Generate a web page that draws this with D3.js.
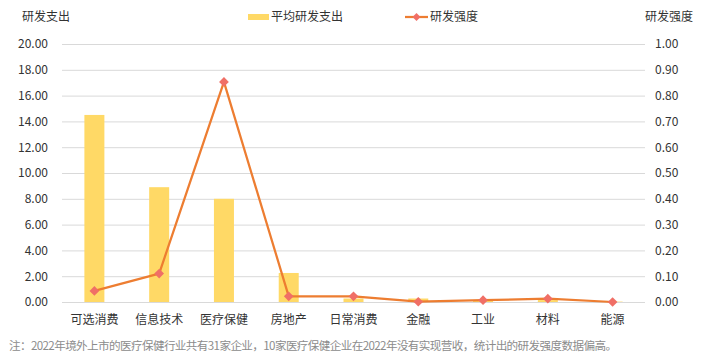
<!DOCTYPE html>
<html>
<head>
<meta charset="utf-8">
<script src="https://cdn.jsdelivr.net/npm/d3@7"></script>
<style>
  body { margin: 0; background: #fff; }
  text { font-family: "Noto Sans CJK SC", "Microsoft YaHei", sans-serif; }
</style>
</head>
<body>
<script>
// Data
const categories = ["可选消费", "信息技术", "医疗保健", "房地产", "日常消费", "金融", "工业", "材料", "能源"];
const avgSpend = [14.5, 8.9, 8.0, 2.25, 0.27, 0.27, 0.1, 0.15, 0.03];
const intensity = [0.043, 0.11, 0.853, 0.022, 0.022, 0.001, 0.007, 0.013, 0.0];
const leftTicks = [0, 2, 4, 6, 8, 10, 12, 14, 16, 18, 20];
const rightTicks = [0, 0.1, 0.2, 0.3, 0.4, 0.5, 0.6, 0.7, 0.8, 0.9, 1.0];
const note = "注：2022年境外上市的医疗保健行业共有31家企业，10家医疗保健企业在2022年没有实现营收，统计出的研发强度数据偏高。";

const width = 701, height = 359;
const margin = { left: 62, right: 56, top: 44, bottom: 57 };

const svg = d3.select("body").append("svg")
    .attr("width", width)
    .attr("height", height);

const x = d3.scaleBand()
    .domain(categories)
    .range([margin.left, width - margin.right])
    .paddingInner(0)
    .paddingOuter(0);

const yL = d3.scaleLinear().domain([0, 20]).range([height - margin.bottom, margin.top]);
const yR = d3.scaleLinear().domain([0, 1]).range([height - margin.bottom, margin.top]);

// gridlines
svg.append("g")
    .selectAll("line")
    .data(leftTicks)
    .join("line")
    .attr("x1", margin.left)
    .attr("x2", width - margin.right)
    .attr("y1", d => yL(d) + 0.5)
    .attr("y2", d => yL(d) + 0.5)
    .attr("stroke", "#d9d9d9")
    .attr("stroke-width", 1);

// left axis
const leftAxis = svg.append("g")
    .attr("transform", `translate(${margin.left},0)`)
    .call(d3.axisLeft(yL).tickValues(leftTicks).tickFormat(d3.format(".2f")).tickSize(0).tickPadding(14));
leftAxis.select(".domain").remove();
leftAxis.selectAll("text").attr("font-size", 12).attr("fill", "#333")
    .style("font-family", "'Noto Sans CJK SC', sans-serif");

// right axis
const rightAxis = svg.append("g")
    .attr("transform", `translate(${width - margin.right},0)`)
    .call(d3.axisRight(yR).tickValues(rightTicks).tickFormat(d3.format(".2f")).tickSize(0).tickPadding(10));
rightAxis.select(".domain").remove();
rightAxis.selectAll("text").attr("font-size", 12).attr("fill", "#333")
    .style("font-family", "'Noto Sans CJK SC', sans-serif");

// x axis labels
const bottomAxis = svg.append("g")
    .attr("transform", `translate(0,${height - margin.bottom})`)
    .call(d3.axisBottom(x).tickSize(0).tickPadding(13));
bottomAxis.select(".domain").remove();
bottomAxis.selectAll("text").attr("font-size", 12).attr("fill", "#333")
    .style("font-family", "'Noto Sans CJK SC', sans-serif");

// bars
const barW = 20;
svg.append("g")
    .selectAll("rect")
    .data(avgSpend)
    .join("rect")
    .attr("x", (d, i) => x(categories[i]) + x.bandwidth() / 2 - barW / 2)
    .attr("y", d => yL(d))
    .attr("width", barW)
    .attr("height", d => yL(0) - yL(d))
    .attr("fill", "#FFD966");

// line
const line = d3.line()
    .x((d, i) => x(categories[i]) + x.bandwidth() / 2)
    .y(d => yR(d));
svg.append("path")
    .datum(intensity)
    .attr("d", line)
    .attr("fill", "none")
    .attr("stroke", "#ED7D31")
    .attr("stroke-width", 2.25)
    .attr("stroke-linejoin", "round");

const diamond = d3.symbol().type(d3.symbolDiamond2).size(60);
svg.append("g")
    .selectAll("path")
    .data(intensity)
    .join("path")
    .attr("d", diamond)
    .attr("transform", (d, i) => `translate(${x(categories[i]) + x.bandwidth() / 2},${yR(d)})`)
    .attr("fill", "#F06F66");

// axis titles
svg.append("text")
    .attr("x", 22).attr("y", 21)
    .attr("font-size", 12).attr("fill", "#333")
    .text("研发支出");
svg.append("text")
    .attr("x", 693).attr("y", 21)
    .attr("text-anchor", "end")
    .attr("font-size", 12).attr("fill", "#333")
    .text("研发强度");

// legend
const legend = svg.append("g");
legend.append("rect")
    .attr("x", 248).attr("y", 14).attr("width", 21).attr("height", 6)
    .attr("fill", "#FFD966");
legend.append("text")
    .attr("x", 271).attr("y", 21)
    .attr("font-size", 12).attr("fill", "#333")
    .text("平均研发支出");
legend.append("line")
    .attr("x1", 405).attr("x2", 428).attr("y1", 17).attr("y2", 17)
    .attr("stroke", "#ED7D31").attr("stroke-width", 2.25);
legend.append("path")
    .attr("d", d3.symbol().type(d3.symbolDiamond2).size(40))
    .attr("transform", "translate(416.5,17)")
    .attr("fill", "#F06F66");
legend.append("text")
    .attr("x", 430).attr("y", 21)
    .attr("font-size", 12).attr("fill", "#333")
    .text("研发强度");

// footnote
svg.append("text")
    .attr("x", 9).attr("y", 350)
    .attr("font-size", 11.6).attr("fill", "#8c8c8c")
    .attr("textLength", 608)
    .text(note);
</script>
</body>
</html>
